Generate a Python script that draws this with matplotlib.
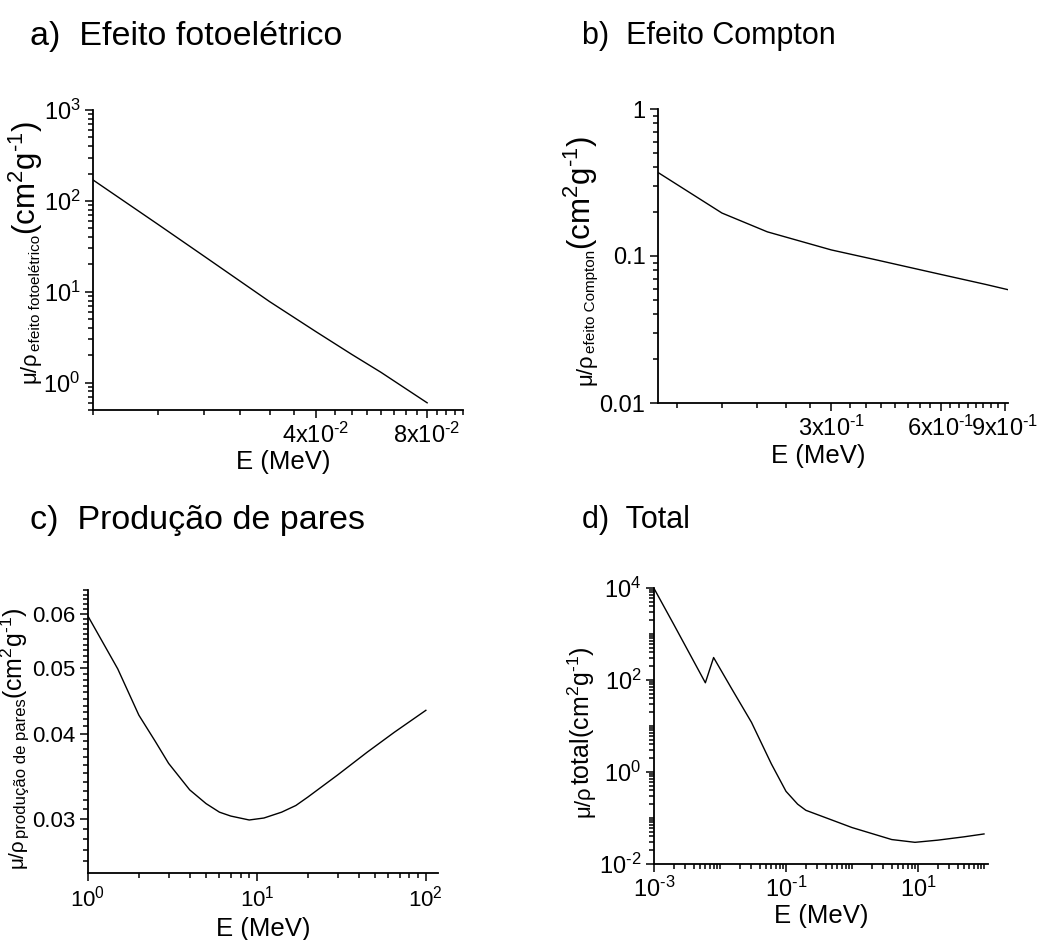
import numpy as np
import matplotlib
matplotlib.use("Agg")
import matplotlib.pyplot as plt
from matplotlib.ticker import FixedLocator, FixedFormatter, LogLocator, NullFormatter
from matplotlib.transforms import IdentityTransform

plt.rcParams["font.family"] = ["Liberation Sans", "DejaVu Sans"]
plt.rcParams["mathtext.fontset"] = "custom"
plt.rcParams["mathtext.rm"] = "Liberation Sans"
plt.rcParams["mathtext.it"] = "Liberation Sans:italic"
plt.rcParams["mathtext.bf"] = "Liberation Sans:bold"
plt.rcParams["mathtext.default"] = "regular"

W, H = 1038, 940

# a) efeito fotoelétrico
e_foto = [0.01, 0.015, 0.02, 0.03, 0.04, 0.05, 0.06, 0.08]
mu_foto = [170, 55, 24.5, 7.8, 3.65, 2.05, 1.3, 0.6]

# b) efeito Compton
e_compton = [0.1, 0.15, 0.2, 0.3, 0.4, 0.5, 0.6, 0.8, 0.92]
mu_compton = [0.37, 0.196, 0.146, 0.11, 0.094, 0.083, 0.075, 0.064, 0.059]

# c) produção de pares
e_pares = [1, 1.5, 2, 2.5, 3, 4, 5, 6, 7, 9, 11, 14, 17, 20, 30, 45, 65, 100]
mu_pares = [0.0595, 0.0498, 0.0426, 0.039, 0.0362, 0.0331, 0.0316, 0.0307, 0.0303,
            0.0299, 0.0301, 0.0307, 0.0314, 0.0323, 0.0348, 0.0376, 0.0402, 0.0433]

# d) total
e_total = [0.001, 0.002, 0.006, 0.008, 0.015, 0.03, 0.06, 0.1, 0.15, 0.2,
           0.5, 1, 4, 9, 20, 50, 100]
mu_total = [9800, 1600, 87, 308, 65, 12, 1.5, 0.38, 0.2, 0.147,
            0.09, 0.062, 0.034, 0.0296, 0.033, 0.039, 0.045]

titles = ["a)  Efeito fotoelétrico", "b)  Efeito Compton",
          "c)  Produção de pares", "d)  Total"]

HY = "\u2010"  # short hyphen for the exponents


def sci(m, p):
    exp = str(p).replace("-", HY)
    return rf"${m}10^{{{exp}}}$"


def px_axes(fig, left, top, right, bottom):
    return fig.add_axes([left / W, 1 - bottom / H, (right - left) / W, (bottom - top) / H])


def style(ax, size=17):
    for s in ["top", "right"]:
        ax.spines[s].set_visible(False)
    for s in ["left", "bottom"]:
        ax.spines[s].set_linewidth(1.3)
    ax.tick_params(which="both", direction="out", width=1.1, labelsize=size)
    ax.tick_params(which="major", length=6, pad=3)
    ax.tick_params(which="minor", length=3.5)
    ax.xaxis.set_minor_formatter(NullFormatter())
    ax.yaxis.set_minor_formatter(NullFormatter())


def rot_label(fig, renderer, x0, ystart, parts):
    # builds the rotated y label piece by piece (pixel coords, ystart from top)
    y = H - ystart
    for text, size, shift in parts:
        t = fig.text(x0 + shift, y, text, fontsize=size, rotation=90,
                     rotation_mode="anchor", ha="left", va="baseline",
                     transform=IdentityTransform())
        y += t.get_window_extent(renderer).height


def xlabel(ax, x, y):
    ax.set_xlabel("E (MeV)", fontsize=18.5)
    ax.xaxis.set_label_coords(x, y)
    ax.xaxis.label.set_va("center")


fig = plt.figure(figsize=(W / 100, H / 100), dpi=100)
renderer = fig.canvas.get_renderer()
unit = "(cm$^2$g$^{" + HY + "1}$)"
big = 22.5

# a)
ax = px_axes(fig, 93, 110, 463, 410)
ax.loglog(e_foto, mu_foto, color="black", lw=1)
ax.set_xlim(0.01, 0.1)
ax.set_ylim(0.5, 1000)
style(ax)
ax.xaxis.set_major_locator(FixedLocator([0.04, 0.08]))
ax.xaxis.set_major_formatter(FixedFormatter([sci("4x", -2), sci("8x", -2)]))
ax.xaxis.set_minor_locator(FixedLocator(np.round(np.arange(0.01, 0.1001, 0.005), 4)))
ax.yaxis.set_major_locator(FixedLocator([1, 10, 100, 1000]))
ax.yaxis.set_major_formatter(FixedFormatter([sci("", 0), sci("", 1), sci("", 2), sci("", 3)]))
ax.yaxis.set_minor_locator(LogLocator(base=10, subs=np.arange(2, 10), numticks=20))
xlabel(ax, 0.514, -0.173)
rot_label(fig, renderer, 36, 383, [("μ/ρ", 16, 0), ("efeito fotoelétrico", 11, 4), (unit, big, 0)])

# b)
ax = px_axes(fig, 658, 109, 1008, 403)
ax.loglog(e_compton, mu_compton, color="black", lw=1)
ax.set_xlim(0.1, 0.92)
ax.set_ylim(0.01, 1)
style(ax)
ax.xaxis.set_major_locator(FixedLocator([0.3, 0.6, 0.9]))
ax.xaxis.set_major_formatter(FixedFormatter([sci("3x", -1), sci("6x", -1), sci("9x", -1)]))
ax.xaxis.set_minor_locator(FixedLocator(np.round(np.arange(0.1125, 0.92, 0.0375), 4)))
ax.yaxis.set_major_locator(FixedLocator([0.01, 0.1, 1]))
ax.yaxis.set_major_formatter(FixedFormatter(["0.01", "0.1", "1"]))
ax.yaxis.set_minor_locator(LogLocator(base=10, subs=np.arange(2, 10), numticks=20))
xlabel(ax, 0.457, -0.18)
rot_label(fig, renderer, 591, 385, [("μ/ρ", 16, 0), ("efeito Compton", 11, 4), (unit, big, 0)])

# c)
ax = px_axes(fig, 88, 590, 438, 873)
ax.loglog(e_pares, mu_pares, color="black", lw=1)
ax.set_xlim(1, 118)
ax.set_ylim(0.025, 0.065)
style(ax, 16)
ax.xaxis.set_major_locator(FixedLocator([1, 10, 100]))
ax.xaxis.set_major_formatter(FixedFormatter([sci("", 0), sci("", 1), sci("", 2)]))
ax.xaxis.set_minor_locator(LogLocator(base=10, subs=np.arange(2, 10), numticks=20))
ax.yaxis.set_major_locator(FixedLocator([0.03, 0.04, 0.05, 0.06]))
ax.yaxis.set_major_formatter(FixedFormatter(["0.03", "0.04", "0.05", "0.06"]))
ax.yaxis.set_minor_locator(FixedLocator(np.round(np.arange(0.026, 0.0651, 0.001), 3)))
xlabel(ax, 0.5, -0.198)
rot_label(fig, renderer, 23, 868, [("μ/ρ", 15, 0), ("produção de pares", 12, 3), (unit, 18, 0)])

# d)
ax = px_axes(fig, 654, 588, 988, 864)
ax.loglog(e_total, mu_total, color="black", lw=1)
ax.set_xlim(1e-3, 115)
ax.set_ylim(1e-2, 1e4)
style(ax)
ax.xaxis.set_major_locator(FixedLocator([1e-3, 1e-1, 1e1]))
ax.xaxis.set_major_formatter(FixedFormatter([sci("", -3), sci("", -1), sci("", 1)]))
ax.xaxis.set_minor_locator(LogLocator(base=10, subs=np.arange(1, 10), numticks=30))
ax.yaxis.set_major_locator(FixedLocator([1e-2, 1, 1e2, 1e4]))
ax.yaxis.set_major_formatter(FixedFormatter([sci("", -2), sci("", 0), sci("", 2), sci("", 4)]))
ax.yaxis.set_minor_locator(LogLocator(base=10, subs=np.arange(1, 10), numticks=30))
xlabel(ax, 0.5, -0.188)
rot_label(fig, renderer, 590, 817, [("μ/ρ", 16, 0), ("total" + unit, 18, 0)])

# panel titles
sizes = [24.5, 22, 24.5, 22]
for (x, y), t, s in zip([(30, 36), (582, 36), (30, 520), (582, 520)], titles, sizes):
    fig.text(x / W, 1 - y / H, t, fontsize=s, va="center", ha="left")

fig.savefig("out.png", dpi=100)
